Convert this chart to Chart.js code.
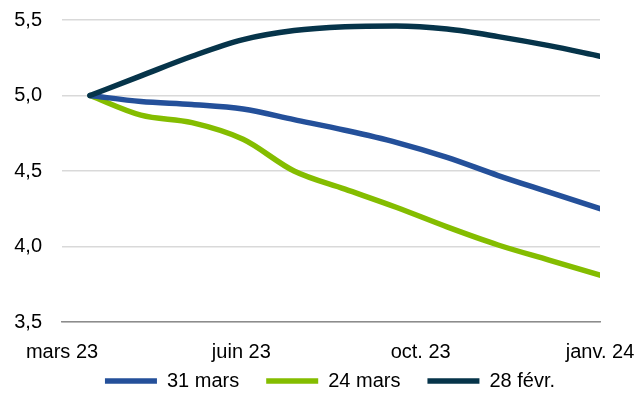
<!DOCTYPE html>
<html>
<head>
<meta charset="utf-8">
<script src="https://cdn.jsdelivr.net/npm/chart.js@4/dist/chart.umd.min.js"></script>
<style>
  html, body { margin: 0; padding: 0; background: #fff; }
  #wrap { width: 636px; height: 395px; }
</style>
</head>
<body>
<div id="wrap"><canvas id="chart" width="636" height="395"></canvas></div>
<script>
// Étiquettes de l'axe horizontal
const tickLabels = ['mars 23', 'juin 23', 'oct. 23', 'janv. 24'];

// Positions des points sur l'axe (0 = mars 23, 3 = janv. 24)
const xPos = [0.156, 0.44, 0.725, 1.01, 1.294, 1.578, 1.863, 2.147, 2.432, 2.716, 3.0];

// Séries
const seriesNames = ['31 mars', '24 mars', '28 févr.'];
const mars31 = [5.00, 4.96, 4.94, 4.91, 4.84, 4.77, 4.69, 4.59, 4.47, 4.36, 4.25];
const mars24 = [5.00, 4.87, 4.82, 4.71, 4.50, 4.38, 4.26, 4.13, 4.01, 3.91, 3.81];
const fevr28 = [5.00, 5.13, 5.26, 5.37, 5.43, 5.455, 5.46, 5.44, 5.39, 5.33, 5.26];

const colors = ['#24509a', '#84bd00', '#06344a'];

function points(values) {
    return values.map((v, i) => ({ x: xPos[i], y: v }));
}

const font = { family: '"Liberation Sans", Arial, sans-serif', size: 20 };

const datasets = [mars31, mars24, fevr28].map((values, i) => ({
    label: seriesNames[i],
    data: points(values),
    borderColor: colors[i],
    backgroundColor: colors[i],
    borderWidth: 5.5,
    pointRadius: 0,
    pointStyle: 'line',
    cubicInterpolationMode: 'monotone',
    borderCapStyle: 'round',
    borderJoinStyle: 'round'
}));
// la série du 28 févr. est dessinée par-dessus
datasets[0].order = 2;
datasets[1].order = 3;
datasets[2].order = 1;

// petits réglages de mise en page après le calcul de Chart.js
const ajustements = {
    id: 'ajustements',
    afterLayout(chart) {
        const x = chart.scales.x;
        x.bottom = x.top + 46;   // ne pas rogner les étiquettes de l'axe x
        chart.legend.left += 30;
        chart.legend.right += 30;
    }
};

new Chart(document.getElementById('chart'), {
    type: 'line',
    data: { datasets: datasets },
    plugins: [ajustements],
    options: {
        responsive: false,
        animation: false,
        layout: { padding: { top: 20, right: 36, left: 0, bottom: -6 } },
        plugins: {
            tooltip: { enabled: false },
            legend: {
                position: 'bottom',
                labels: {
                    font: font,
                    color: '#000',
                    usePointStyle: true,
                    pointStyle: 'line',
                    pointStyleWidth: 52,
                    padding: 27,
                    sort: (a, b) => a.datasetIndex - b.datasetIndex
                }
            }
        },
        scales: {
            x: {
                type: 'linear',
                min: 0,
                max: 3,
                grid: { display: false, drawTicks: false },
                border: { color: '#8c8c8c', width: 1.5 },
                ticks: {
                    stepSize: 1,
                    font: font,
                    color: '#000',
                    padding: 18,
                    maxRotation: 0,
                    callback: v => tickLabels[v]
                },
                afterFit: s => {
                    s.height = 22;
                    s.paddingLeft = 0;
                    s.paddingRight = 0;
                }
            },
            y: {
                min: 3.5,
                max: 5.5,
                grid: { color: '#d9d9d9', lineWidth: 1.5, drawTicks: false },
                border: { display: false },
                ticks: {
                    stepSize: 0.5,
                    font: font,
                    color: '#000',
                    padding: 20,
                    callback: v => v.toFixed(1).replace('.', ',')
                },
                afterFit: s => {
                    s.width = 62;
                    s.paddingTop = 0;
                    s.paddingBottom = 0;
                }
            }
        }
    }
});
</script>
</body>
</html>
